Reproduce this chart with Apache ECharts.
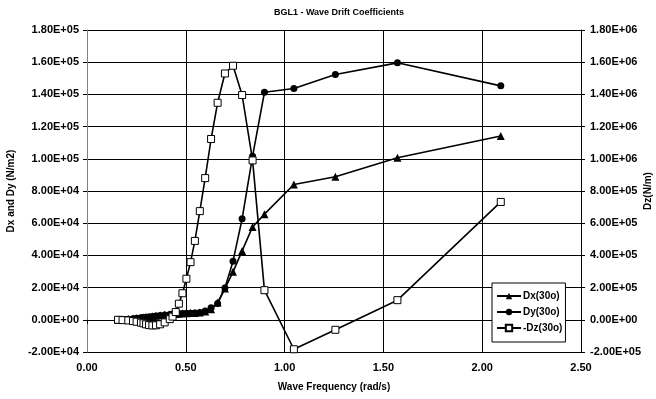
<!DOCTYPE html>
<html>
<head>
<meta charset="utf-8">
<script src="https://cdn.jsdelivr.net/npm/echarts@6/dist/echarts.min.js"></script>
<style>html,body{margin:0;padding:0;background:#fff;}#c{width:656px;height:399px;}</style>
</head>
<body>
<div id="c"></div>
<script>
// Wave frequencies (rad/s)
var freq = [0.157,0.180,0.209,0.233,0.251,0.273,0.286,0.299,0.314,0.331,0.349,0.370,0.393,0.419,0.433,0.449,0.465,0.483,0.503,0.524,0.546,0.571,0.598,0.628,0.661,0.698,0.739,0.785,0.838,0.898,1.047,1.257,1.571,2.094];
// Dx(30o) N/m2
var dx = [0,200,500,800,1000,1300,1500,1700,1900,2200,2500,2800,3100,3400,3500,3700,3800,4000,4100,4200,4300,4500,5200,6500,10700,19400,29800,42800,57700,65600,84000,88800,100600,114200];
// Dy(30o) N/m2
var dy = [0,150,400,700,900,1200,1400,1600,1800,2100,2400,2700,3000,3300,3400,3600,3700,3900,4000,4100,4300,4600,5500,7500,10100,19800,36400,62700,101600,141300,143700,152400,159600,145300];
// -Dz(30o) N/m
var dz = [0,-2000,-4000,-8000,-12000,-18000,-22000,-28000,-33000,-35000,-34000,-28000,-16000,4000,20000,48000,100000,165000,255000,358000,490000,675000,880000,1123000,1348000,1530000,1578000,1396000,990000,184000,-183000,-62000,122000,732000];

var titleText = 'BGL1 - Wave Drift Coefficients';
var xName = 'Wave Frequency (rad/s)';
var yLeftName = 'Dx and Dy (N/m2)';
var yRightName = 'Dz(N/m)';
var names = ['Dx(30o)','Dy(30o)','-Dz(30o)'];

function sci(v){
  if (v === 0) return '0.00E+00';
  var s = v.toExponential(2).split('e');
  var e = parseInt(s[1], 10);
  var a = Math.abs(e);
  return s[0] + 'E' + (e < 0 ? '-' : '+') + (a < 10 ? '0' : '') + a;
}
function pairs(xs, ys){ return xs.map(function(x,i){ return [x, ys[i]]; }); }

var FONT = '"Liberation Sans", Arial, sans-serif';
var nameTxt = {fontFamily: FONT, fontWeight: 'bold', fontSize: 10, color: '#000'};
var tickTxt = {fontFamily: FONT, fontWeight: 'bold', fontSize: 11, color: '#000'};

var chart = echarts.init(document.getElementById('c'), null, {renderer: 'canvas'});
chart.setOption({
  animation: false,
  backgroundColor: '#fff',
  title: {text: titleText, left: 334, top: 3, textAlign: 'center',
    textStyle: {fontFamily: FONT, fontWeight: 'bold', fontSize: 9, color: '#000'}},
  grid: {left: 87, right: 75, top: 30, bottom: 47, containLabel: false, outerBoundsMode: 'none'},
  legend: {
    orient: 'vertical', left: 492, top: 283,
    data: names,
    itemWidth: 24, itemHeight: 8, itemGap: 6,
    padding: [8, 3, 9, 4],
    borderColor: '#000', borderWidth: 1, borderRadius: 0,
    backgroundColor: '#fff',
    textStyle: {fontFamily: FONT, fontWeight: 'bold', fontSize: 10, color: '#000', padding: [0,0,0,-3]}
  },
  xAxis: {
    type: 'value', min: 0, max: 2.5, interval: 0.5,
    name: xName, nameLocation: 'middle', nameGap: 30, nameMoveOverlap: false,
    nameTextStyle: nameTxt,
    axisLine: {show: true, lineStyle: {color: '#000', width: 1}},
    axisTick: {show: true, inside: false, length: 4, lineStyle: {color: '#000'}},
    axisLabel: Object.assign({margin: 10, formatter: function(v){ return v.toFixed(2); }}, tickTxt),
    splitLine: {show: true, lineStyle: {color: '#000', width: 1}}
  },
  yAxis: [{
    type: 'value', min: -20000, max: 180000, interval: 20000,
    name: yLeftName, nameLocation: 'middle', nameGap: 71, nameRotate: 90, nameMoveOverlap: false,
    nameTextStyle: nameTxt,
    axisLine: {show: true, onZero: false, lineStyle: {color: '#808080', width: 1}},
    axisTick: {show: true, length: 4, lineStyle: {color: '#000'}},
    axisLabel: Object.assign({margin: 8, formatter: sci}, tickTxt),
    splitLine: {show: true, lineStyle: {color: '#000', width: 1}}
  },{
    type: 'value', min: -200000, max: 1800000, interval: 200000,
    position: 'right',
    name: yRightName, nameLocation: 'middle', nameGap: 62, nameRotate: 90, nameMoveOverlap: false,
    nameTextStyle: nameTxt,
    axisLine: {show: true, onZero: false, lineStyle: {color: '#000', width: 1}},
    axisTick: {show: true, length: 4, lineStyle: {color: '#000'}},
    axisLabel: Object.assign({margin: 9, formatter: sci}, tickTxt),
    splitLine: {show: false}
  }],
  series: [{
    name: names[0], type: 'line', yAxisIndex: 0, data: pairs(freq, dx),
    symbol: 'triangle', symbolSize: 8, showAllSymbol: true,
    lineStyle: {color: '#000', width: 1.6},
    itemStyle: {color: '#000', borderColor: '#000', borderWidth: 0}
  },{
    name: names[1], type: 'line', yAxisIndex: 0, data: pairs(freq, dy),
    symbol: 'circle', symbolSize: 7, showAllSymbol: true,
    lineStyle: {color: '#000', width: 1.6},
    itemStyle: {color: '#000', borderColor: '#000', borderWidth: 0}
  },{
    name: names[2], type: 'line', yAxisIndex: 1, data: pairs(freq, dz),
    symbol: 'rect', symbolSize: 7, showAllSymbol: true,
    lineStyle: {color: '#000', width: 1.6},
    itemStyle: {color: '#fff', borderColor: '#000', borderWidth: 1}
  }]
});
</script>
</body>
</html>
